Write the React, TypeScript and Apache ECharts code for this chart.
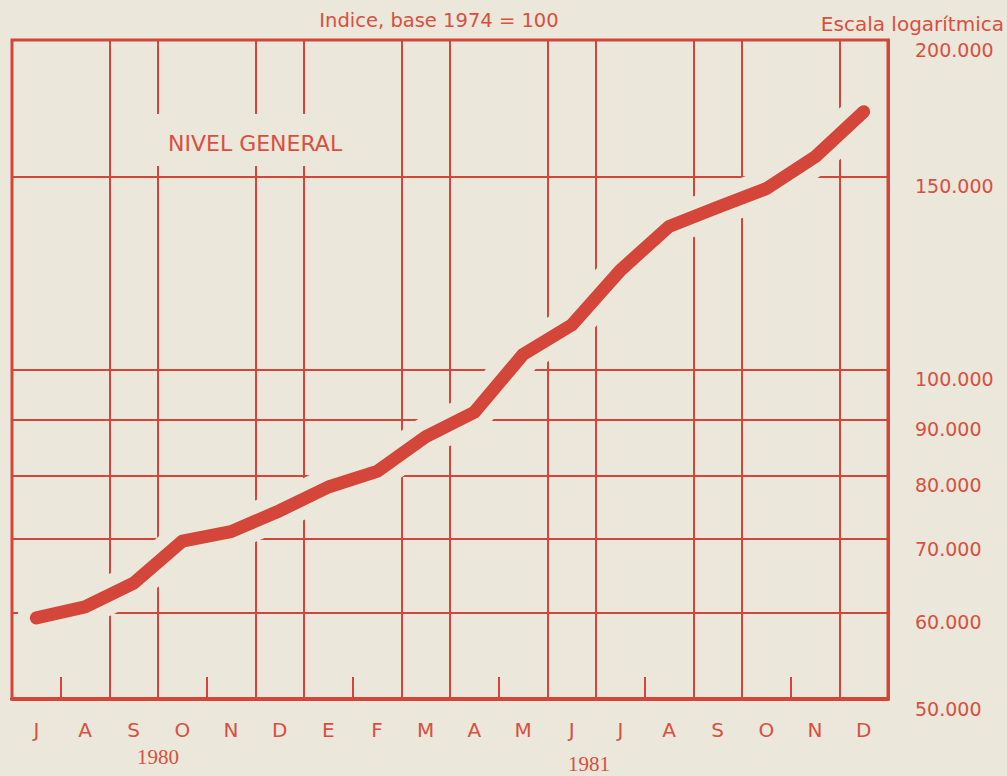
import React, { useEffect, useRef } from "react";
import * as echarts from "echarts";

// ---- data ----
const months = ["J", "A", "S", "O", "N", "D", "E", "F", "M", "A", "M", "J", "J", "A", "S", "O", "N", "D"];
const years = ["1980", "1981"];
const indexValues = [
  59300, 60700, 63800, 69700, 71100, 74300, 78100, 80700, 86800,
  91400, 103200, 109800, 123200, 135100, 140700, 146300, 156400, 172000,
];
const yTicks = [50000, 60000, 70000, 80000, 90000, 100000, 150000, 200000];
const titleText = "Indice, base 1974 = 100";
const scaleText = "Escala logarítmica";
const seriesLabel = "NIVEL GENERAL";

const RED = "#d4463a";
const TEXT_RED = "#d8503f";
const PAPER = "#ebe7da";
const SANS = "'DejaVu Sans', sans-serif";
const SERIF = "'Liberation Serif', serif";

const fmt = (n: number) => String(n).replace(/\B(?=(\d{3})+(?!\d))/g, ".");

export default function App() {
  const ref = useRef<HTMLDivElement>(null);
  useEffect(() => {
    if (!ref.current) return;
    const chart = echarts.init(ref.current, undefined, { renderer: "svg" });
    const logData = indexValues.map((v) => Math.log10(v));
    const logTicks = yTicks.map((v) => Math.log10(v));
    chart.setOption({
      animation: false,
      backgroundColor: PAPER,
      grid: {
        left: 12,
        right: 119,
        top: 40,
        bottom: 77,
        show: true,
        borderColor: RED,
        borderWidth: 3,
        backgroundColor: "transparent",
      },
      xAxis: {
        type: "category",
        data: months,
        boundaryGap: true,
        axisLine: { show: true, lineStyle: { color: RED, width: 4 } },
        axisTick: {
          show: true,
          inside: true,
          length: 22,
          interval: 0,
          lineStyle: { color: RED, width: 2 },
        },
        axisLabel: {
          interval: 0,
          margin: 21,
          color: TEXT_RED,
          fontSize: 20,
          fontFamily: SANS,
        },
        splitLine: {
          show: true,
          interval: (i: number) => i % 3 !== 1,
          lineStyle: { color: RED, width: 2 },
        },
      },
      yAxis: {
        type: "value",
        position: "right",
        min: Math.log10(50000),
        max: Math.log10(200000),
        axisLine: { show: true, lineStyle: { color: RED, width: 3 } },
        axisTick: { show: false, customValues: logTicks },
        axisLabel: {
          customValues: logTicks,
          margin: 27,
          color: TEXT_RED,
          fontSize: 19,
          fontFamily: SANS,
          verticalAlign: "top",
          formatter: (v: number) => fmt(Math.round(Math.pow(10, v) / 1000) * 1000),
        },
        splitLine: { show: true, lineStyle: { color: RED, width: 2 } },
      },
      series: [
        {
          type: "line",
          data: logData,
          symbol: "none",
          silent: true,
          z: 3,
          lineStyle: { color: PAPER, width: 38, cap: "round", join: "round" },
        },
        {
          type: "line",
          data: logData,
          symbol: "none",
          silent: true,
          z: 4,
          lineStyle: { color: RED, width: 13, cap: "round", join: "round" },
        },
      ],
      graphic: [
        {
          type: "rect",
          z: 1,
          silent: true,
          shape: { x: 145, y: 114, width: 180, height: 52 },
          style: { fill: PAPER },
        },
        {
          type: "text",
          z: 5,
          x: 168,
          y: 143,
          style: {
            text: seriesLabel,
            fill: TEXT_RED,
            fontSize: 22,
            fontFamily: SANS,
            verticalAlign: "middle",
          },
        },
        {
          type: "text",
          z: 5,
          x: 439,
          y: 20,
          style: {
            text: titleText,
            fill: TEXT_RED,
            fontSize: 19.5,
            fontFamily: SANS,
            align: "center",
            verticalAlign: "middle",
          },
        },
        {
          type: "text",
          z: 5,
          x: 1004,
          y: 24,
          style: {
            text: scaleText,
            fill: TEXT_RED,
            fontSize: 20,
            fontFamily: SANS,
            align: "right",
            verticalAlign: "middle",
          },
        },
        {
          type: "text",
          z: 5,
          x: 158,
          y: 757,
          style: {
            text: years[0],
            fill: TEXT_RED,
            fontSize: 21,
            fontFamily: SERIF,
            align: "center",
            verticalAlign: "middle",
          },
        },
        {
          type: "text",
          z: 5,
          x: 589,
          y: 764,
          style: {
            text: years[1],
            fill: TEXT_RED,
            fontSize: 21,
            fontFamily: SERIF,
            align: "center",
            verticalAlign: "middle",
          },
        },
      ],
    });
    return () => chart.dispose();
  }, []);
  return (
    <div
      ref={ref}
      style={{ position: "fixed", left: 0, top: 0, width: 1007, height: 776, background: PAPER }}
    />
  );
}
